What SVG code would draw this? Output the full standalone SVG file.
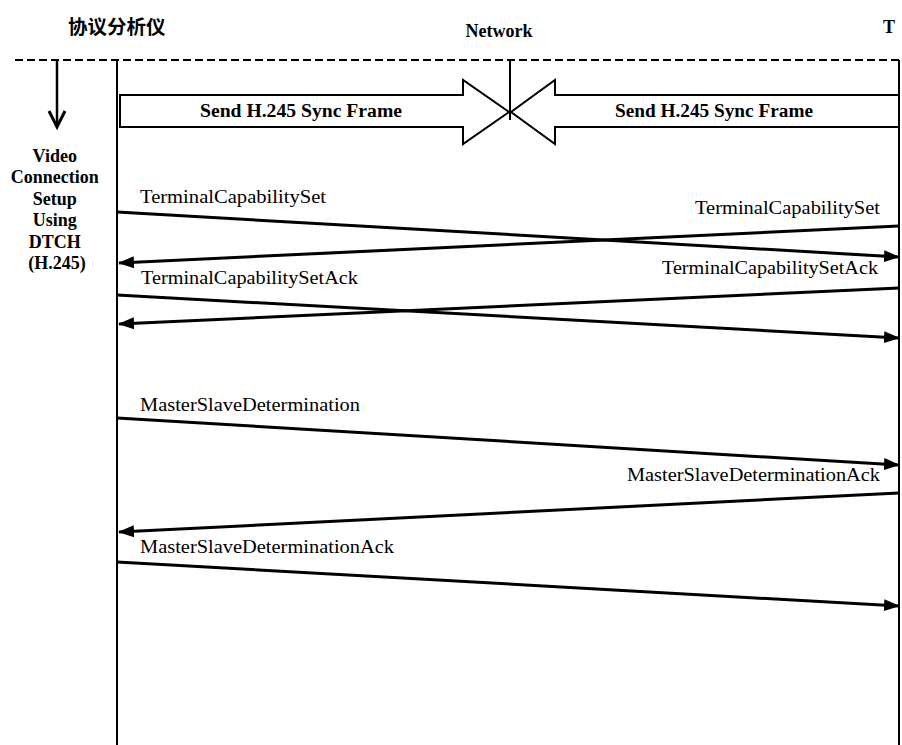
<svg xmlns="http://www.w3.org/2000/svg" width="902" height="745" viewBox="0 0 902 745">
<style>
.t{font-family:"Liberation Serif","Times New Roman",serif;font-size:18px;fill:#000}
.b{font-weight:bold}
.msg{stroke:#000;stroke-width:3;fill:none}
.life{stroke:#000;stroke-width:2;fill:none}
.blk{stroke:#000;stroke-width:2;fill:#fff}
</style>
<defs>
<marker id="ah" markerWidth="16" markerHeight="12" refX="15" refY="6" orient="auto" markerUnits="userSpaceOnUse">
<path d="M0,0 L16,6 L0,12 z" fill="#000"/>
</marker>
</defs>
<rect width="902" height="745" fill="#fff"/>
<g id="headers">
<text class="b" x="68" y="34" style="font-family:'Noto Sans CJK SC','Liberation Sans',sans-serif;font-size:19.5px">协议分析仪</text>
<text class="t b" x="499" y="37" text-anchor="middle" font-size="17">Network</text>
<text class="t b" x="883" y="33">T</text>
</g>
<g id="frame">
<line x1="15" y1="60" x2="902" y2="60" stroke="#000" stroke-width="2" stroke-dasharray="8,4"/>
<line class="life" x1="117" y1="60" x2="117" y2="745"/>
<line class="life" x1="899" y1="60" x2="899" y2="745"/>
<line class="life" x1="510" y1="60" x2="510" y2="120"/>
</g>
<g id="phase">
<line x1="57" y1="60" x2="57" y2="126" stroke="#000" stroke-width="2.5"/>
<path d="M49,111 L57,127 L65,111" fill="none" stroke="#000" stroke-width="3"/>
<text class="t b" text-anchor="middle" font-size="16.5">
<tspan x="57" y="162">Video</tspan>
<tspan x="57" y="183">Connection</tspan>
<tspan x="57" y="205">Setup</tspan>
<tspan x="57" y="226">Using</tspan>
<tspan x="57" y="248">DTCH</tspan>
<tspan x="57" y="269">(H.245)</tspan>
</text>
</g>
<g id="sync-left">
<path class="blk" d="M120,95 L463,95 L463,80 L509,112 L463,144 L463,127 L120,127 z"/>
<text class="t b" x="200" y="117" textLength="202" lengthAdjust="spacingAndGlyphs" font-size="17">Send H.245 Sync Frame</text>
</g>
<g id="sync-right">
<path class="blk" d="M899,95 L555,95 L555,80 L511,112 L555,144 L555,127 L899,127 z"/>
<text class="t b" x="615" y="117" textLength="198" lengthAdjust="spacingAndGlyphs" font-size="17">Send H.245 Sync Frame</text>
</g>
<g id="connectors">
<line class="msg" x1="117" y1="212" x2="899" y2="257" marker-end="url(#ah)"/>
<line class="msg" x1="899" y1="226" x2="119" y2="263" marker-end="url(#ah)"/>
<line class="msg" x1="117" y1="295" x2="899" y2="338" marker-end="url(#ah)"/>
<line class="msg" x1="899" y1="288" x2="119" y2="324" marker-end="url(#ah)"/>
<line class="msg" x1="117" y1="418" x2="899" y2="465" marker-end="url(#ah)"/>
<line class="msg" x1="899" y1="493" x2="119" y2="532" marker-end="url(#ah)"/>
<line class="msg" x1="117" y1="562" x2="899" y2="606" marker-end="url(#ah)"/>
</g>
<g id="labels">
<text class="t" x="140" y="203" textLength="186" lengthAdjust="spacingAndGlyphs">TerminalCapabilitySet</text>
<text class="t" x="695" y="214" textLength="185" lengthAdjust="spacingAndGlyphs">TerminalCapabilitySet</text>
<text class="t" x="141" y="284" textLength="217" lengthAdjust="spacingAndGlyphs">TerminalCapabilitySetAck</text>
<text class="t" x="662" y="274" textLength="216" lengthAdjust="spacingAndGlyphs">TerminalCapabilitySetAck</text>
<text class="t" x="140" y="411" textLength="220" lengthAdjust="spacingAndGlyphs">MasterSlaveDetermination</text>
<text class="t" x="627" y="481" textLength="253" lengthAdjust="spacingAndGlyphs">MasterSlaveDeterminationAck</text>
<text class="t" x="140" y="553" textLength="254" lengthAdjust="spacingAndGlyphs">MasterSlaveDeterminationAck</text>
</g>
</svg>
